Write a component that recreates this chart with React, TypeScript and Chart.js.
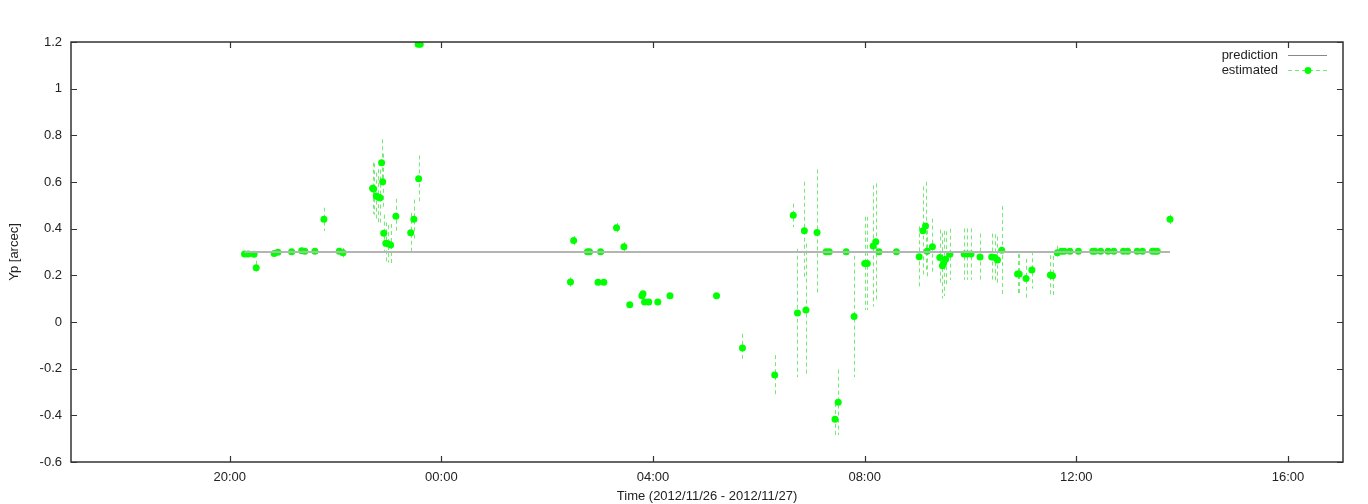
import React, { useEffect, useRef } from "react";
import { Chart, registerables } from "chart.js";

Chart.register(...registerables);

// Hours since 2012/11/26 00:00
const estTimes = [
  20.28, 20.35, 20.46, 20.5, 20.84, 20.91, 21.17, 21.36, 21.42, 21.61,
  21.78, 22.07, 22.14, 22.7, 22.72, 22.77, 22.81, 22.84, 22.87, 22.89,
  22.91, 22.95, 22.99, 23.04, 23.14, 23.42, 23.48, 23.57, 23.56, 23.6,
  26.44, 26.5, 26.76, 26.8, 26.96, 27.01, 27.07, 27.31, 27.45, 27.56,
  27.79, 27.81, 27.84, 27.92, 28.09, 28.32, 29.2, 29.69, 30.3, 30.65,
  30.73, 30.86, 30.89, 31.1, 31.27, 31.33, 31.44, 31.5, 31.65, 31.8,
  32.0, 32.05, 32.16, 32.21, 32.27, 32.6, 33.03, 33.1, 33.15, 33.18,
  33.28, 33.42, 33.47, 33.49, 33.53, 33.61, 33.88, 33.94, 34.01, 34.18,
  34.4, 34.46, 34.51, 34.59, 34.89, 34.92, 35.05, 35.16, 35.51, 35.55,
  35.64, 35.72, 35.77, 35.88, 36.04, 36.31, 36.35, 36.46, 36.6, 36.71,
  36.89, 36.97, 37.15, 37.25, 37.44, 37.49, 37.53, 37.77,
];
const estValues = [
  0.291, 0.291, 0.29, 0.233, 0.294, 0.299, 0.301, 0.305, 0.303, 0.303,
  0.44, 0.303, 0.297, 0.573, 0.57, 0.54, 0.535, 0.533, 0.683, 0.601,
  0.38, 0.337, 0.335, 0.33, 0.453, 0.383, 0.44, 0.614, 1.19, 1.19,
  0.171, 0.349, 0.301, 0.301, 0.17, 0.301, 0.17, 0.404, 0.323, 0.074,
  0.113, 0.121, 0.086, 0.086, 0.086, 0.113, 0.113, -0.111, -0.227, 0.457,
  0.039, 0.391, 0.051, 0.384, 0.301, 0.301, -0.417, -0.344, 0.301, 0.024,
  0.251, 0.251, 0.326, 0.344, 0.301, 0.301, 0.28, 0.391, 0.411, 0.303,
  0.323, 0.276, 0.241, 0.251, 0.269, 0.29, 0.291, 0.291, 0.291, 0.279,
  0.279, 0.276, 0.266, 0.307, 0.206, 0.206, 0.186, 0.223, 0.201, 0.198,
  0.297, 0.303, 0.303, 0.303, 0.303, 0.303, 0.303, 0.303, 0.303, 0.303,
  0.303, 0.303, 0.303, 0.303, 0.303, 0.303, 0.303, 0.44,
];
const estErrors = [
  0.01, 0.01, 0.01, 0.03, 0.01, 0.01, 0.01, 0.01, 0.01, 0.01,
  0.05, 0.01, 0.02, 0.11, 0.11, 0.1, 0.12, 0.12, 0.1, 0.12,
  0.08, 0.09, 0.08, 0.09, 0.075, 0.085, 0.085, 0.1, 0.0, 0.0,
  0.02, 0.02, 0.01, 0.01, 0.01, 0.01, 0.01, 0.02, 0.02, 0.01,
  0.01, 0.01, 0.01, 0.01, 0.01, 0.01, 0.01, 0.06, 0.085, 0.05,
  0.275, 0.21, 0.285, 0.27, 0.01, 0.01, 0.07, 0.14, 0.01, 0.26,
  0.2, 0.2, 0.26, 0.25, 0.01, 0.01, 0.13, 0.19, 0.19, 0.12,
  0.12, 0.12, 0.14, 0.14, 0.12, 0.11, 0.11, 0.11, 0.11, 0.1,
  0.1, 0.1, 0.1, 0.19, 0.085, 0.085, 0.085, 0.08, 0.085, 0.085,
  0.03, 0.01, 0.01, 0.01, 0.01, 0.01, 0.01, 0.01, 0.01, 0.01,
  0.01, 0.01, 0.01, 0.01, 0.01, 0.01, 0.01, 0.02,
];

const predTimes = [20.28, 37.77];
const predValues = [0.3, 0.3];

const xTickHours = [20, 24, 28, 32, 36, 40];
const xMin = 17.0;
const xMax = 41.04;
const yMin = -0.6;
const yMax = 1.2;
const yStep = 0.2;

const seriesLabels = ["prediction", "estimated"];
const xTitle = "Time (2012/11/26 - 2012/11/27)";
const yTitle = "Yp [arcec]";

const FONT = "'Liberation Sans', Arial, Helvetica, sans-serif";
const TEXT = "#222222";
const ERR_COLOR = "#74ec74";

const fmtHour = (v: number) => {
  const h = ((Math.round(v) % 24) + 24) % 24;
  return (h < 10 ? "0" : "") + h + ":00";
};

const errorBarPlugin = {
  id: "errorBars",
  beforeDatasetsDraw(chart: any) {
    const { ctx, scales } = chart;
    const xs = scales.x;
    const ys = scales.y;
    ctx.save();
    ctx.strokeStyle = ERR_COLOR;
    ctx.lineWidth = 1;
    ctx.setLineDash([4, 3]);
    for (let i = 0; i < estTimes.length; i++) {
      const e = estErrors[i];
      if (!e) continue;
      const px = Math.round(xs.getPixelForValue(estTimes[i])) + 0.5;
      const y1 = ys.getPixelForValue(estValues[i] - e);
      const y2 = ys.getPixelForValue(estValues[i] + e);
      ctx.beginPath();
      ctx.moveTo(px, y2);
      ctx.lineTo(px, y1);
      ctx.stroke();
    }
    ctx.restore();
  },
};

const framePlugin = {
  id: "frame",
  afterDatasetsDraw(chart: any) {
    const { ctx, chartArea, scales } = chart;
    const { left, right, top, bottom } = chartArea;
    ctx.save();
    ctx.strokeStyle = "#333333";
    ctx.lineWidth = 1.5;
    ctx.setLineDash([]);
    ctx.strokeRect(left, top, right - left, bottom - top);
    const tl = 6;
    ctx.lineWidth = 1.2;
    ctx.beginPath();
    for (const h of xTickHours) {
      const px = Math.round(scales.x.getPixelForValue(h)) + 0.5;
      ctx.moveTo(px, bottom);
      ctx.lineTo(px, bottom - tl);
      ctx.moveTo(px, top);
      ctx.lineTo(px, top + tl);
    }
    for (let v = yMin; v <= yMax + 1e-9; v += yStep) {
      const py = Math.round(scales.y.getPixelForValue(v)) + 0.5;
      ctx.moveTo(left, py);
      ctx.lineTo(left + tl, py);
      ctx.moveTo(right, py);
      ctx.lineTo(right - tl, py);
    }
    ctx.stroke();

    // legend (gnuplot style, inside top-right)
    ctx.font = "13px " + FONT;
    ctx.fillStyle = TEXT;
    ctx.textAlign = "right";
    ctx.textBaseline = "middle";
    const lx = 1278;
    const y1 = 55;
    const y2 = 70;
    ctx.fillText(seriesLabels[0], lx, y1);
    ctx.fillText(seriesLabels[1], lx, y2);
    ctx.strokeStyle = "#888888";
    ctx.lineWidth = 1;
    ctx.beginPath();
    ctx.moveTo(1288, y1 + 0.5);
    ctx.lineTo(1327, y1 + 0.5);
    ctx.stroke();
    ctx.strokeStyle = ERR_COLOR;
    ctx.setLineDash([4, 3]);
    ctx.beginPath();
    ctx.moveTo(1288, y2 + 0.5);
    ctx.lineTo(1327, y2 + 0.5);
    ctx.stroke();
    ctx.setLineDash([]);
    ctx.fillStyle = "#00ff00";
    ctx.beginPath();
    ctx.arc(1308, y2 + 0.5, 3.4, 0, Math.PI * 2);
    ctx.fill();
    ctx.restore();
  },
};

export default function App() {
  const ref = useRef<HTMLCanvasElement | null>(null);

  useEffect(() => {
    document.body.style.margin = "0";
    const canvas = ref.current;
    if (!canvas) return;
    const chart = new Chart(canvas, {
      type: "scatter",
      data: {
        datasets: [
          {
            type: "line",
            label: seriesLabels[0],
            data: predTimes.map((t, i) => ({ x: t, y: predValues[i] })),
            borderColor: "#b4b4b4",
            borderWidth: 2,
            pointRadius: 0,
            showLine: true,
            fill: false,
          } as any,
          {
            label: seriesLabels[1],
            data: estTimes.map((t, i) => ({ x: t, y: estValues[i] })),
            backgroundColor: "#00ff00",
            borderColor: "#00ff00",
            borderWidth: 0,
            pointRadius: 3.5,
            pointHoverRadius: 3.5,
            showLine: false,
          },
        ],
      },
      options: {
        responsive: false,
        animation: false,
        devicePixelRatio: 1,
        layout: { padding: { left: 0, right: 25, top: 42, bottom: 0 } },
        plugins: {
          legend: { display: false },
          tooltip: { enabled: false },
        },
        scales: {
          x: {
            type: "linear",
            min: xMin,
            max: xMax,
            grid: { display: false, drawTicks: false },
            border: { display: false },
            afterBuildTicks: (scale: any) => {
              scale.ticks = xTickHours.map((v) => ({ value: v }));
            },
            afterFit: (scale: any) => {
              scale.height = 42;
            },
            ticks: {
              autoSkip: false,
              maxRotation: 0,
              padding: 8,
              color: TEXT,
              font: { family: FONT, size: 13 },
              callback: (v: any) => fmtHour(Number(v)),
            },
            title: {
              display: true,
              text: xTitle,
              color: TEXT,
              font: { family: FONT, size: 13 },
              padding: { top: 0, bottom: 0 },
            },
          },
          y: {
            type: "linear",
            min: yMin,
            max: yMax,
            grid: { display: false, drawTicks: false },
            border: { display: false },
            afterFit: (scale: any) => {
              scale.width = 71;
            },
            ticks: {
              stepSize: yStep,
              padding: 9,
              color: TEXT,
              font: { family: FONT, size: 13 },
              callback: (v: any) => String(Number(Number(v).toFixed(1))),
            },
            title: {
              display: true,
              text: yTitle,
              color: TEXT,
              font: { family: FONT, size: 13 },
              padding: { top: 7, bottom: 0 },
            },
          },
        },
      },
      plugins: [errorBarPlugin, framePlugin],
    } as any);
    return () => chart.destroy();
  }, []);

  return (
    <div style={{ width: 1368, height: 504 }}>
      <canvas ref={ref} width={1368} height={504} style={{ display: "block" }} />
    </div>
  );
}
